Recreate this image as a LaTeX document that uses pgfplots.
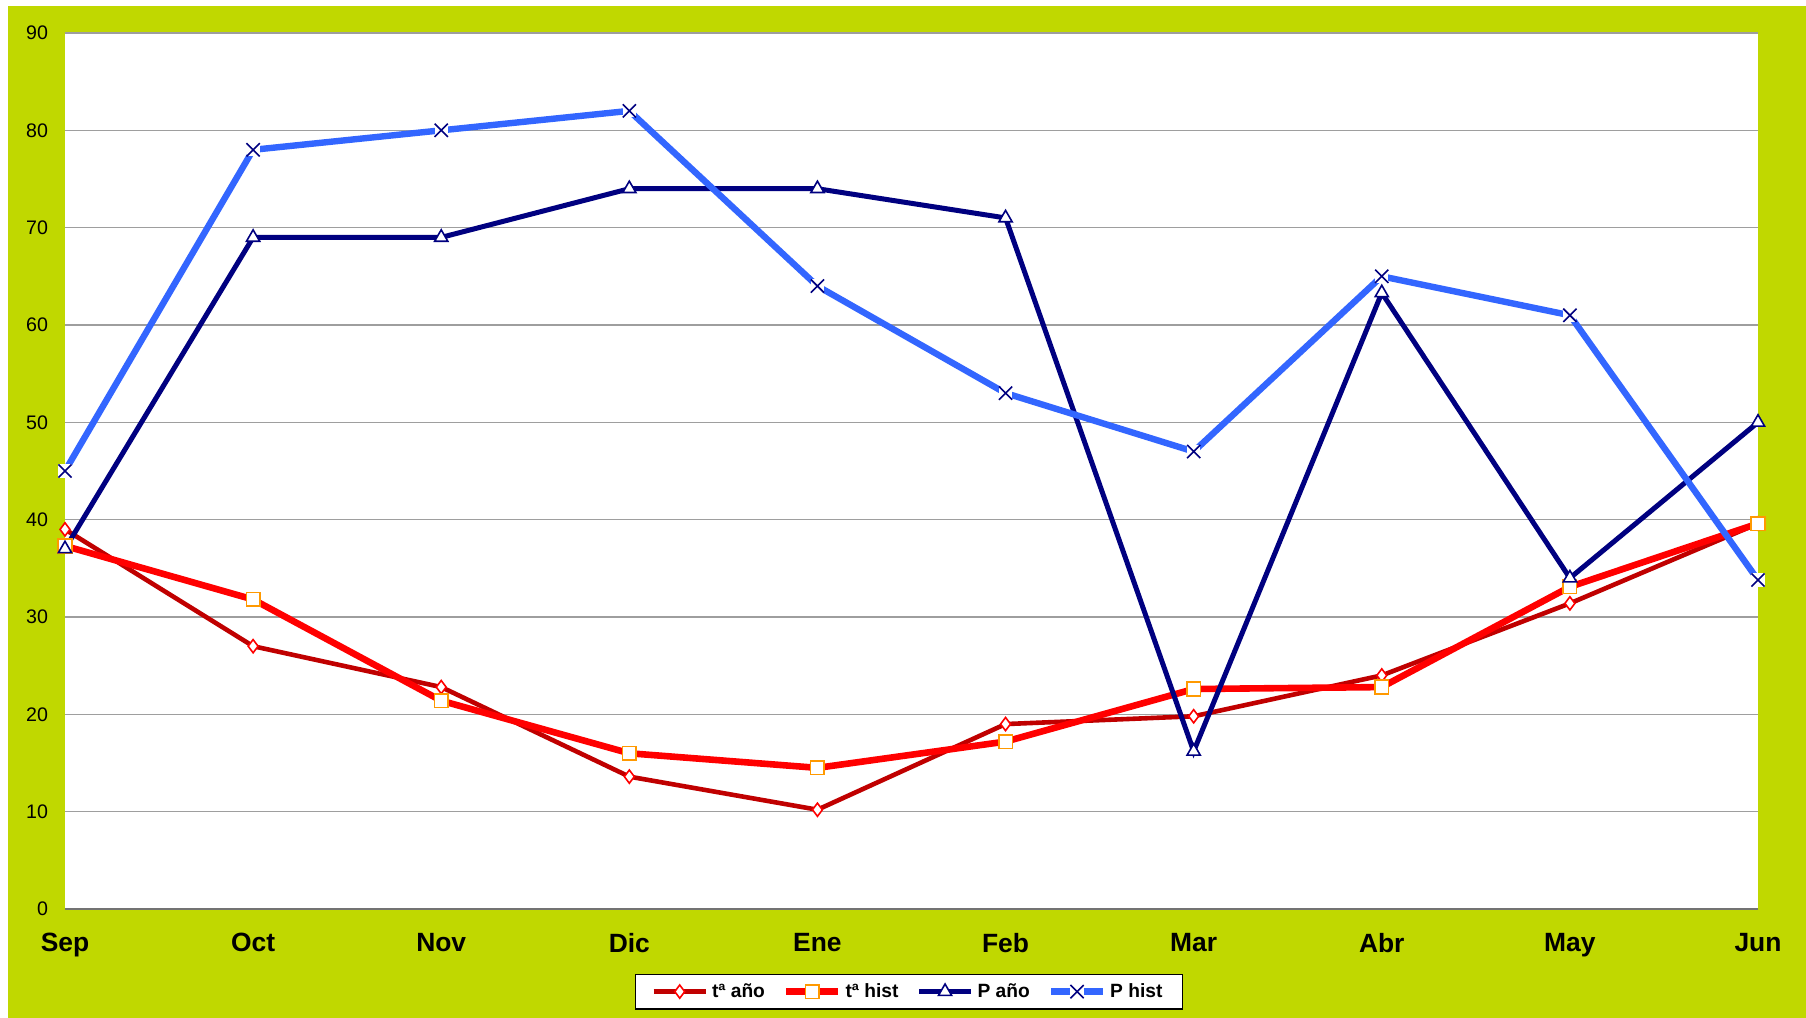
\documentclass[border=0pt]{standalone}
\usepackage{fontspec}
\setmainfont{Liberation Sans}
\usepackage{pgfplots}
\pgfplotsset{compat=1.18}
\definecolor{bggreen}{RGB}{192,216,0}
\definecolor{tano}{RGB}{192,0,0}
\definecolor{thist}{RGB}{255,0,0}
\definecolor{pano}{RGB}{0,0,128}
\definecolor{phist}{RGB}{51,102,255}
\definecolor{mkorange}{RGB}{255,153,0}
\pgfdeclareplotmark{xbox}{%
  \pgfpathrectangle{\pgfqpoint{-\pgfplotmarksize}{-\pgfplotmarksize}}{\pgfqpoint{2\pgfplotmarksize}{2\pgfplotmarksize}}%
  \pgfsetfillcolor{white}\pgfusepath{fill}%
  \pgfpathmoveto{\pgfqpoint{-\pgfplotmarksize}{-\pgfplotmarksize}}%
  \pgfpathlineto{\pgfqpoint{\pgfplotmarksize}{\pgfplotmarksize}}%
  \pgfpathmoveto{\pgfqpoint{-\pgfplotmarksize}{\pgfplotmarksize}}%
  \pgfpathlineto{\pgfqpoint{\pgfplotmarksize}{-\pgfplotmarksize}}%
  \pgfusepath{stroke}}
\begin{document}
\begin{tikzpicture}
\fill[white] (-32.5pt,-54.5pt) rectangle (870.5pt,454.5pt);
\fill[bggreen] (-28.5pt,-54.5pt) rectangle (870.5pt,451.5pt);
\fill[white] (0,0) rectangle (846.5pt,438pt);
\begin{axis}[
 at={(0,0)}, anchor=south west, scale only axis, width=846.5pt, height=438pt,
 xmin=0, xmax=9, ymin=0, ymax=90, clip=false,
 xtick={0,...,9}, xticklabels={Sep,Oct,Nov,Dic,Ene,Feb,Mar,Abr,May,Jun},
 ytick={0,10,...,90},
 ymajorgrids, grid style={draw=black!38, line width=0.8pt},
 axis x line*=bottom, axis y line*=left,
 x axis line style={draw=black!55, line width=0.8pt, -},
 y axis line style={draw=none},
 major tick length=0pt,
 /pgf/number format/assume math mode=true,
 yticklabel style={font=\fontsize{9.8}{11}\selectfont, xshift=-5pt},
 xticklabel style={font=\fontsize{13.2}{15}\selectfont\bfseries, yshift=-8.5pt},
 legend style={at={(0.4985,-0.0943)}, anchor=center, legend columns=4, draw=black, line width=0.6pt, fill=white,
   font=\fontsize{9.6}{11}\selectfont\bfseries, inner ysep=2.5pt, inner xsep=8pt,
   /tikz/every even column/.append style={column sep=7pt}},
 legend image code/.code={\draw[mark repeat=2,mark phase=2] plot coordinates {(0pt,0pt) (13pt,0pt) (26pt,0pt)};},
]
\addplot[color=tano, line width=2.3pt, mark=diamond*, mark size=3.3pt, mark options={solid, fill=white, draw=red, line width=0.8pt}] coordinates {
(0,39) (1,27) (2,22.8) (3,13.6) (4,10.2) (5,19) (6,19.8) (7,24) (8,31.4) (9,39.6)};
\addlegendentry{tª año}
\addplot[color=thist, line width=3.3pt, mark=square*, mark size=3.4pt, mark options={solid, fill=white, draw=mkorange, line width=0.8pt}] coordinates {
(0,37.3) (1,31.8) (2,21.4) (3,16) (4,14.5) (5,17.2) (6,22.6) (7,22.8) (8,33.1) (9,39.6)};
\addlegendentry{tª hist}
\addplot[color=pano, line width=2.5pt, mark=triangle*, mark size=3.8pt, mark options={solid, fill=white, draw=pano, line width=0.8pt}] coordinates {
(0,37) (1,69) (2,69) (3,74) (4,74) (5,71) (6,16.2) (7,63.3) (8,34) (9,50)};
\addlegendentry{P año}
\addplot[color=phist, line width=3.2pt, mark=xbox, mark size=3.3pt, mark options={solid, draw=pano, line width=0.8pt}] coordinates {
(0,45) (1,78) (2,80) (3,82) (4,64) (5,53) (6,47) (7,65) (8,61) (9,33.8)};
\addlegendentry{P hist}
\end{axis}
\pgfresetboundingbox
\useasboundingbox (-32.5pt,-54.5pt) rectangle (870.5pt,454.5pt);
\end{tikzpicture}
\end{document}
